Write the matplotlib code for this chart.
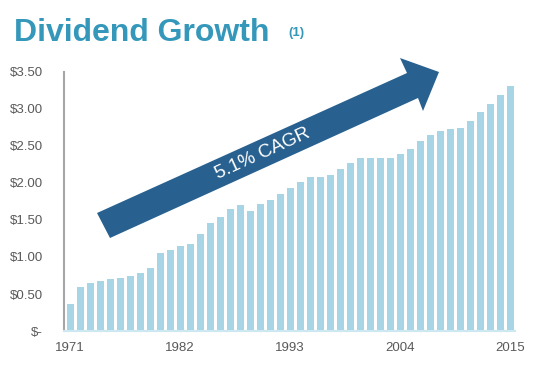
import matplotlib
matplotlib.use('Agg')
import matplotlib.pyplot as plt
from matplotlib.patches import Polygon

plt.rcParams['font.family'] = ['Liberation Sans', 'DejaVu Sans']

# ---- #
# Data #
# ---- #

years = list(range(1971, 2016))
dividends = [0.36, 0.59, 0.65, 0.68, 0.70, 0.72, 0.74, 0.78, 0.85,
             1.05, 1.10, 1.15, 1.18, 1.31, 1.46, 1.54, 1.65, 1.70, 1.62,
             1.72, 1.77, 1.85, 1.93, 2.01, 2.08, 2.08, 2.11, 2.19, 2.27,
             2.34, 2.34, 2.34, 2.34, 2.39, 2.46, 2.57, 2.64, 2.70, 2.73,
             2.74, 2.84, 2.96, 3.07, 3.19, 3.31]
shown_years = [1971, 1982, 1993, 2004, 2015]
y_ticks = [0, 0.5, 1.0, 1.5, 2.0, 2.5, 3.0, 3.5]
y_labels = ['$-', '$0.50', '$1.00', '$1.50', '$2.00', '$2.50', '$3.00', '$3.50']

gray = '#595959'

fig = plt.figure(figsize=(5.52, 3.65), dpi=100)
ax = fig.add_axes([0.116, 0.093, 0.817, 0.7103])

x = list(range(len(years)))
ax.bar(x, dividends, width=0.7, color='#A8D5E5', zorder=2)

ax.set_xlim(-0.6, 44.5)
ax.set_ylim(0, 3.5)
ax.set_yticks(y_ticks)
ax.set_yticklabels(y_labels)
ax.set_xticks([years.index(y) for y in shown_years])
ax.set_xticklabels([str(y) for y in shown_years])
ax.tick_params(axis='y', length=0, pad=15, labelsize=9.5, labelcolor=gray)
ax.tick_params(axis='x', length=0, pad=8, labelsize=9.5, labelcolor=gray)

for s in ['top', 'right']:
    ax.spines[s].set_visible(False)
ax.spines['left'].set_color('#A6A6A6')
ax.spines['left'].set_linewidth(1.5)
ax.spines['bottom'].set_color('#CDE8F1')
ax.spines['bottom'].set_linewidth(1.5)

# ---------------- #
# Arrow and titles #
# ---------------- #

ov = fig.add_axes([0, 0, 1, 1], zorder=5)
ov.set_xlim(0, 552)
ov.set_ylim(365, 0)
ov.axis('off')
ov.patch.set_alpha(0)

arrow_pts = [(97, 213), (407, 73), (400, 58), (439, 72),
             (423, 111), (418, 98), (110, 238)]
ov.add_patch(Polygon(arrow_pts, closed=True, color='#28618F', lw=0))
ov.text(263, 154, '5.1% CAGR', color='white', fontsize=13.5,
        rotation=24.5, ha='center', va='center', rotation_mode='anchor')

ov.text(14, 41, 'Dividend Growth', color='#3598BB', fontsize=23,
        fontweight='bold', ha='left', va='baseline')
ov.text(288, 36, '(1)', color='#3598BB', fontsize=9.5,
        fontweight='bold', ha='left', va='baseline')

fig.savefig('out.png', dpi=100)
